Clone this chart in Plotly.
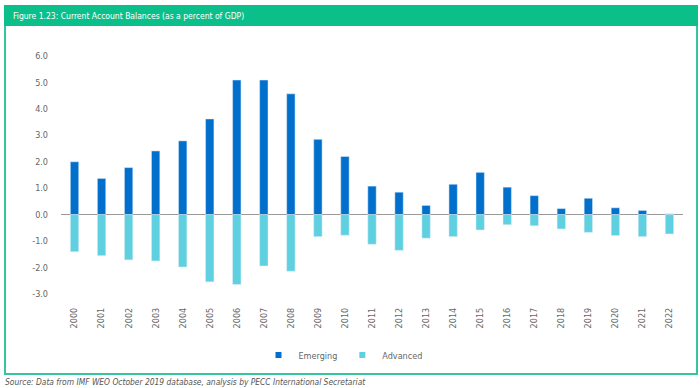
import plotly.graph_objects as go

years = [str(y) for y in range(2000, 2023)]
emerging = [2.0, 1.37, 1.78, 2.41, 2.79, 3.62, 5.09, 5.09, 4.57, 2.85, 2.2, 1.08, 0.85,
            0.35, 1.15, 1.6, 1.04, 0.72, 0.23, 0.62, 0.26, 0.16, 0.03]
advanced = [-1.40, -1.55, -1.71, -1.75, -1.98, -2.54, -2.64, -1.94, -2.14, -0.83, -0.78, -1.12, -1.35,
            -0.89, -0.83, -0.58, -0.38, -0.42, -0.54, -0.67, -0.79, -0.83, -0.73]
ytick_vals = [-3, -2, -1, 0, 1, 2, 3, 4, 5, 6]
ytick_text = ["%.1f" % v for v in ytick_vals]

title_text = "Figure 1.23: Current Account Balances (as a percent of GDP)"
source_text = "Source: Data from IMF WEO October 2019 database, analysis by PECC International Secretariat"

W, H = 700, 388
L, R, T, B = 61, 17, 56, 94
PW, PH = W - L - R, H - T - B

def px(x):
    return (x - L) / PW

def py(y):
    return (H - B - y) / PH

FONT = "DejaVu Sans Condensed, Liberation Sans Narrow, Arial Narrow, sans-serif"
BLUE = "#0070CC"
CYAN = "#5ED0E0"
GREEN = "#0BBF8B"
BORDER = "#35C6A0"
GRAY = "#666666"

fig = go.Figure()
fig.add_trace(go.Bar(x=years, y=emerging, name="Emerging", marker_color=BLUE,
                     width=0.31, showlegend=False))
fig.add_trace(go.Bar(x=years, y=advanced, name="Advanced", marker_color=CYAN,
                     width=0.31, showlegend=False))
# legend entries with small square symbols
fig.add_trace(go.Scatter(x=[None], y=[None], mode="markers", name="Emerging",
                         marker=dict(symbol="square", size=6, color=BLUE)))
fig.add_trace(go.Scatter(x=[None], y=[None], mode="markers", name="Advanced",
                         marker=dict(symbol="square", size=6, color=CYAN)))

shapes = [
    # frame
    dict(type="rect", xref="paper", yref="paper", x0=px(5), x1=px(697), y0=py(374), y1=py(6),
         line=dict(color=BORDER, width=2), fillcolor="rgba(0,0,0,0)", layer="below"),
    # header bar
    dict(type="rect", xref="paper", yref="paper", x0=px(4), x1=px(698), y0=py(26), y1=py(5),
         line=dict(width=0), fillcolor=GREEN, layer="below"),
]

annotations = [
    dict(text=title_text, xref="paper", yref="paper", x=px(11), y=py(16), xanchor="left",
         yanchor="middle", showarrow=False, font=dict(family=FONT, size=8.5, color="white")),
    dict(text="<i>" + source_text + "</i>", xref="paper", yref="paper", x=px(3), y=py(382),
         xanchor="left", yanchor="middle", showarrow=False,
         font=dict(family=FONT, size=8.4, color="#555555")),
]

fig.update_layout(
    width=W, height=H,
    margin=dict(l=L, r=R, t=T, b=B),
    paper_bgcolor="white", plot_bgcolor="white",
    barmode="relative",
    font=dict(family=FONT, size=9, color=GRAY),
    shapes=shapes, annotations=annotations,
    legend=dict(orientation="h", x=px(343), y=py(355), xanchor="center", yanchor="middle",
                font=dict(family=FONT, size=9, color=GRAY), itemwidth=30,
                bgcolor="rgba(0,0,0,0)"),
    xaxis=dict(type="category", categoryorder="array", categoryarray=years,
               range=[-0.5, 22.5], tickangle=-90, showgrid=False, showline=False,
               zeroline=False, ticks="", ticklabelstandoff=11,
               tickfont=dict(family=FONT, size=9, color=GRAY)),
    yaxis=dict(range=[-3, 6], tickvals=ytick_vals, ticktext=ytick_text, showgrid=False,
               showline=False, zeroline=True, zerolinecolor="#9a9a9a", zerolinewidth=1,
               ticks="", ticklabelstandoff=12,
               tickfont=dict(family=FONT, size=9, color=GRAY)),
)

fig.write_html("out.html", config={"displayModeBar": False},
               post_script="document.body.style.margin='0';document.body.style.overflow='hidden';")
